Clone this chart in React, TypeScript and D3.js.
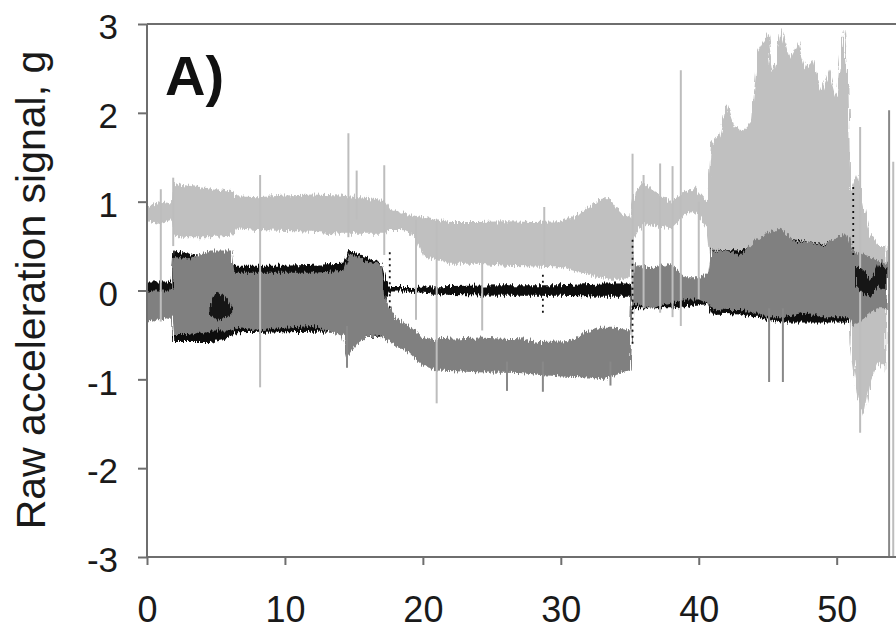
import { useEffect, useRef } from "react";
import * as d3 from "d3";

// time (s) break points and signal envelopes (g)
const lightT = [0, 0.9, 1.8, 1.9, 3, 4.5, 6.2, 6.5, 8, 10, 12, 14, 16, 17.2, 17.6, 18.5, 19.5, 20, 22, 24, 26, 28, 30, 31, 32, 32.8, 33.5, 34.3, 35.0, 35.3, 36, 37, 38, 39, 39.8, 40.6, 40.9, 41.5, 42, 42.6, 43.2, 43.8, 44.3, 45, 45.4, 46, 46.6, 47.2, 47.8, 48.3, 48.9, 49.5, 50, 50.5, 50.85, 51.0, 51.5, 52, 52.5, 53, 53.6];
const lightHi = [0.95, 1.0, 0.98, 1.2, 1.18, 1.15, 1.12, 1.06, 1.05, 1.07, 1.08, 1.07, 1.04, 1.02, 0.92, 0.88, 0.84, 0.82, 0.77, 0.77, 0.78, 0.77, 0.78, 0.84, 0.92, 1.03, 1.04, 0.88, 0.82, 1.1, 1.22, 1.1, 1.0, 1.12, 1.15, 1.0, 1.65, 1.75, 2.1, 1.85, 1.8, 1.9, 2.7, 2.9, 2.45, 2.95, 2.6, 2.8, 2.5, 2.6, 2.25, 2.5, 2.2, 2.95, 2.3, 1.1, 1.3, 0.9, 0.6, 0.5, 0.5];
const lightLo = [0.78, 0.75, 0.8, 0.62, 0.6, 0.6, 0.62, 0.7, 0.68, 0.67, 0.66, 0.64, 0.64, 0.64, 0.68, 0.68, 0.6, 0.38, 0.3, 0.3, 0.28, 0.27, 0.26, 0.22, 0.18, 0.15, 0.12, 0.12, 0.15, 0.6, 0.75, 0.72, 0.7, 0.85, 0.88, 0.7, 0.3, 0.1, 0.1, 0.1, 0.1, 0.1, 0.1, 0.1, 0.1, 0.1, 0.1, 0.1, 0.1, 0.1, 0.1, 0.1, 0.1, 0.1, 0.1, -0.6, -1.2, -1.4, -1.0, -0.8, -0.9];

const darkT = [0, 1.8, 1.9, 3, 4.6, 6.2, 6.4, 8, 10, 12, 14.2, 14.6, 15.2, 16, 17.0, 17.3, 18, 19, 20, 21, 24, 27, 28.5, 30.4, 32, 33, 34, 35.0, 35.2, 36.5, 38, 39, 40, 40.7, 40.9, 42, 43, 44, 45, 46, 47, 48, 49, 50, 50.8, 51.2, 52, 53, 53.7];
const darkHi = [0.0, 0.0, 0.38, 0.35, 0.45, 0.45, 0.2, 0.2, 0.2, 0.2, 0.22, 0.42, 0.38, 0.32, 0.3, -0.1, -0.3, -0.4, -0.52, -0.55, -0.53, -0.55, -0.58, -0.57, -0.45, -0.42, -0.42, -0.45, 0.3, 0.25, 0.3, 0.15, 0.15, 0.2, 0.45, 0.45, 0.4, 0.55, 0.65, 0.7, 0.55, 0.55, 0.5, 0.6, 0.65, 0.45, 0.4, 0.35, 0.3];
const darkLo = [-0.35, -0.3, -0.5, -0.5, -0.45, -0.45, -0.42, -0.45, -0.42, -0.4, -0.5, -0.75, -0.6, -0.52, -0.5, -0.55, -0.62, -0.7, -0.85, -0.9, -0.92, -0.93, -0.95, -0.97, -0.98, -1.0, -0.95, -0.9, -0.15, -0.2, -0.15, -0.1, -0.1, -0.15, -0.2, -0.22, -0.22, -0.25, -0.3, -0.3, -0.28, -0.25, -0.3, -0.3, -0.3, -0.4, -0.3, -0.2, -0.2];

const blackT = [0, 1.8, 1.9, 4.6, 6.2, 6.4, 10, 14.2, 14.6, 17.0, 17.3, 17.6, 19, 22, 26, 30, 33, 35.0, 35.2, 38.5, 40.7, 40.9, 43, 46, 49, 50.8, 51.2, 53.7];
const blackHi = [0.1, 0.1, 0.45, 0.36, 0.3, 0.28, 0.28, 0.3, 0.46, 0.3, 0.12, 0.04, 0.04, 0.05, 0.06, 0.06, 0.08, 0.08, -0.02, -0.02, -0.03, 0.46, 0.45, 0.6, 0.52, 0.62, 0.35, 0.3];
const blackLo = [-0.02, -0.02, -0.58, -0.58, -0.52, -0.48, -0.47, -0.46, -0.52, -0.52, -0.1, -0.01, -0.01, -0.05, -0.06, -0.06, -0.07, -0.07, -0.2, -0.2, -0.15, -0.26, -0.27, -0.36, -0.36, -0.36, -0.1, -0.05];

// black blobs that sit on top of the dark trace
const blobT = [4.6, 5.0, 5.4, 5.8, 6.1];
const blobHi = [-0.15, -0.02, -0.05, -0.1, -0.2];
const blobLo = [-0.28, -0.33, -0.32, -0.3, -0.26];
const tailT = [51.4, 52, 52.5, 53, 53.6];
const tailHi = [0.3, 0.22, 0.1, 0.3, 0.25];
const tailLo = [0.05, -0.05, -0.08, 0.05, 0.0];

// single spikes
const lightSpikeT = [1.0, 1.9, 8.2, 14.6, 15.2, 17.2, 19.5, 21.0, 24.3, 28.8, 35.2, 36.0, 37.2, 38.1, 38.7, 40.0, 51.7, 54.1];
const lightSpikeLo = [-0.35, 0.5, -1.09, 0.6, 0.8, 0.4, -0.33, -1.27, -0.45, 0.3, -0.1, -0.2, -0.25, -0.3, -0.4, -0.1, -1.6, -3.0];
const lightSpikeHi = [1.14, 1.27, 1.3, 1.77, 1.35, 1.41, 0.8, 0.8, 0.3, 0.94, 1.54, 1.3, 1.43, 1.4, 2.48, 1.0, 1.84, 1.45];
const darkSpikeT = [14.5, 26.1, 28.7, 33.6, 45.1, 46.1, 53.8];
const darkSpikeLo = [-0.87, -1.13, -1.14, -1.07, -1.03, -1.03, -3.0];
const darkSpikeHi = [-0.4, -0.8, -0.8, -0.8, -0.2, -0.2, 2.03];
const blackSpikeT = [17.6, 28.7, 35.2, 51.2];
const blackSpikeLo = [-0.2, -0.25, -0.6, 0.4];
const blackSpikeHi = [0.45, 0.2, 0.6, 1.2];

const xTicks = [0, 10, 20, 30, 40, 50];
const yTicks = [-3, -2, -1, 0, 1, 2, 3];

export default function App() {
  const ref = useRef<SVGSVGElement>(null);

  useEffect(() => {
    const width = 896, height = 630;
    const svg = d3.select(ref.current);
    svg.selectAll("*").remove();
    svg.attr("width", width).attr("height", height);

    const x = d3.scaleLinear().domain([0, 54.3]).range([147, 896]);
    const y = d3.scaleLinear().domain([-3, 3]).range([557, 24]);
    const font = "'Liberation Sans', Arial, sans-serif";

    const defs = svg.append("defs");
    defs.append("clipPath").attr("id", "plot")
      .append("rect").attr("x", 148).attr("y", 24).attr("width", 750).attr("height", 533);
    const f = defs.append("filter").attr("id", "rough")
      .attr("filterUnits", "userSpaceOnUse")
      .attr("x", 0).attr("y", 0).attr("width", width).attr("height", height);
    f.append("feTurbulence").attr("type", "fractalNoise")
      .attr("baseFrequency", "0.7 0.04").attr("numOctaves", 2).attr("seed", 4).attr("result", "n");
    f.append("feDisplacementMap").attr("in", "SourceGraphic").attr("in2", "n")
      .attr("scale", 9).attr("xChannelSelector", "G").attr("yChannelSelector", "R");

    const plot = svg.append("g").attr("clip-path", "url(#plot)");

    function band(t: number[], hi: number[], lo: number[], color: string) {
      const area = d3.area<number>()
        .x(d => x(d))
        .y0((d, i) => y(lo[i]))
        .y1((d, i) => y(hi[i]));
      plot.append("path").attr("d", area(t)).attr("fill", color).attr("filter", "url(#rough)");
    }

    function spikes(t: number[], lo: number[], hi: number[], color: string, w: number, dash?: string) {
      plot.append("g").selectAll("line")
        .data(t)
        .enter()
        .append("line")
        .attr("x1", d => x(d)).attr("x2", d => x(d))
        .attr("y1", (d, i) => y(lo[i])).attr("y2", (d, i) => y(hi[i]))
        .attr("stroke", color).attr("stroke-width", w)
        .attr("stroke-dasharray", dash || null);
    }

    band(lightT, lightHi, lightLo, "#c0c0c0");
    band(blackT, blackHi, blackLo, "#0a0a0a");
    band(darkT, darkHi, darkLo, "#808080");
    spikes(lightSpikeT, lightSpikeLo, lightSpikeHi, "#bdbdbd", 2);
    spikes(darkSpikeT, darkSpikeLo, darkSpikeHi, "#888888", 2);
    band(blobT, blobHi, blobLo, "#151515");
    band(tailT, tailHi, tailLo, "#151515");
    spikes(blackSpikeT, blackSpikeLo, blackSpikeHi, "#111", 1.8, "2 4");

    // frame + axes
    const axisColor = "#6e6e6e";
    svg.append("line").attr("x1", 147).attr("x2", width).attr("y1", 24).attr("y2", 24)
      .attr("stroke", axisColor).attr("stroke-width", 2);

    const yAxis = svg.append("g").attr("transform", "translate(147,0)")
      .call(d3.axisLeft(y).tickValues(yTicks).tickSize(9).tickPadding(20).tickFormat(d3.format("d")));
    const xAxis = svg.append("g").attr("transform", "translate(0,557)")
      .call(d3.axisBottom(x).tickValues(xTicks).tickSize(8).tickPadding(31).tickFormat(d3.format("d")));

    [yAxis, xAxis].forEach(a => {
      a.select(".domain").attr("stroke", axisColor).attr("stroke-width", 2);
      a.selectAll(".tick line").attr("stroke", axisColor).attr("stroke-width", 2);
      a.selectAll("text").attr("fill", "#1a1a1a").attr("font-family", font);
    });
    yAxis.select(".domain").attr("d", "M0,24V557");
    xAxis.select(".domain").attr("d", "M147,0H896");
    yAxis.selectAll("text").attr("font-size", 35).attr("dy", "0.42em")
      .text(d => d3.format("d")(d as number).replace("−", "-"));
    xAxis.selectAll("text").attr("font-size", 36);

    svg.append("text")
      .attr("transform", "translate(45,290) rotate(-90)")
      .attr("text-anchor", "middle")
      .attr("font-family", font)
      .attr("font-size", 41)
      .attr("fill", "#1a1a1a")
      .text("Raw acceleration signal, g");

    svg.append("text")
      .attr("x", 165).attr("y", 95)
      .attr("font-family", font)
      .attr("font-weight", "bold")
      .attr("font-size", 56)
      .attr("fill", "#111")
      .text("A)");
  }, []);

  return (
    <svg ref={ref} style={{ position: "absolute", left: 0, top: 0, background: "#fff" }}></svg>
  );
}
